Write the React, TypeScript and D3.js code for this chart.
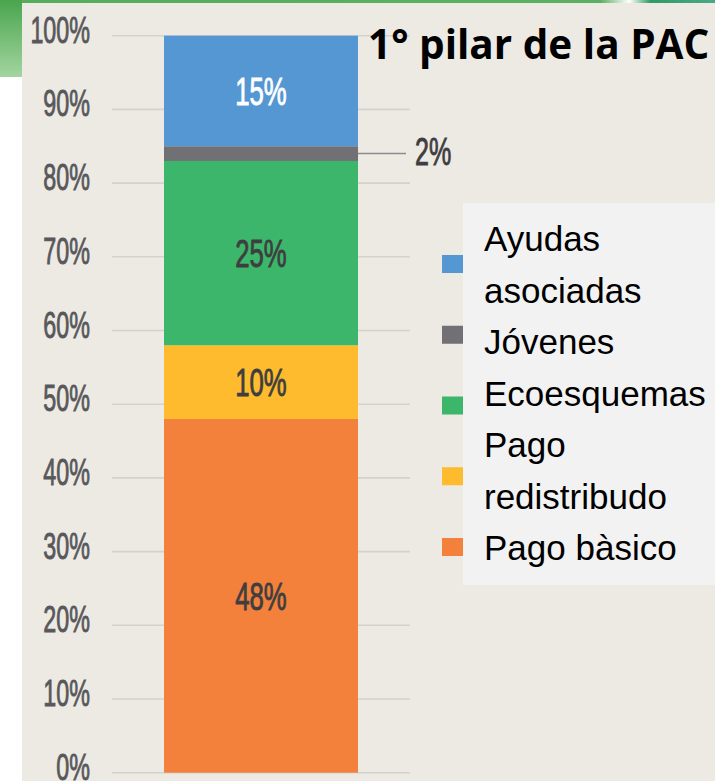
import React from "react";
import * as d3 from "d3";

// Stacked shares of the first pillar (bottom to top)
const segments = ["Pago bàsico", "Pago redistribudo", "Ecoesquemas", "Jóvenes", "Ayudas asociadas"];
const shares = [48, 10, 25, 2, 15];
const segmentColors = ["#F4813B", "#FDBB2D", "#3CB66A", "#717074", "#5597D3"];
const labelColors = ["#3E3E40", "#3E3E40", "#3E3E40", "#3E3E40", "#FFFFFF"];
const categories = ["1° pilar"];
const tickValues = [0, 10, 20, 30, 40, 50, 60, 70, 80, 90, 100];

// Legend (top to bottom), wrapped as in the source slide
const legendKeys = ["Ayudas asociadas", "Jóvenes", "Ecoesquemas", "Pago redistribudo", "Pago bàsico"];
const legendLines = ["Ayudas", "asociadas", "Jóvenes", "Ecoesquemas", "Pago", "redistribudo", "Pago bàsico"];

const title = "1° pilar de la PAC";

const W = 715;
const H = 781;
const condensed = "'Liberation Sans', Arial, sans-serif";

export default function App() {
  const y = d3.scaleLinear().domain([0, 100]).range([772.7, 35.7]);
  const x = d3.scaleBand().domain(categories).range([112, 410]).paddingInner(0).paddingOuter(0.268);

  const row: Record<string, number> = {};
  segments.forEach((s, i) => (row[s] = shares[i]));
  const stacked = d3.stack<Record<string, number>>().keys(segments)([row]);

  const color = d3.scaleOrdinal<string, string>().domain(segments).range(segmentColors);
  const labelColor = d3.scaleOrdinal<string, string>().domain(segments).range(labelColors);

  const x0 = x(categories[0]) as number;
  const bw = x.bandwidth();
  const cx = x0 + bw / 2;

  const swatchY = d3.scalePoint<string>().domain(legendKeys).range([264, 547]);
  const lineY = d3.scalePoint<string>().domain(legendLines.map((d, i) => i + d)).range([251, 560]);

  return (
    <svg
      width={W}
      height={H}
      style={{ position: "absolute", left: 0, top: 0, display: "block" }}
    >
      <defs>
        <linearGradient id="leftGreen" x1="0" y1="0" x2="0" y2="1">
          <stop offset="0" stopColor="#4AA54E" />
          <stop offset="1" stopColor="#A3D5A0" />
        </linearGradient>
        <linearGradient id="topStrip" x1="0" y1="0" x2="1" y2="0">
          <stop offset="0" stopColor="#55AD5A" />
          <stop offset="0.84" stopColor="#5DB063" />
          <stop offset="0.88" stopColor="#FFFFFF" />
          <stop offset="0.91" stopColor="#2E9C62" />
          <stop offset="1" stopColor="#4AA88A" />
        </linearGradient>
      </defs>

      {/* slide background */}
      <rect x={0} y={0} width={W} height={H} fill="#FFFFFF" />
      <rect x={0} y={0} width={W} height={4} fill="url(#topStrip)" />
      <rect x={0} y={0} width={22} height={77} fill="url(#leftGreen)" />
      <rect x={22} y={3} width={W - 22} height={H - 3} fill="#EDEAE4" />

      {/* gridlines */}
      <g>
        {tickValues.map((t) => (
          <line
            key={t}
            x1={112}
            x2={410}
            y1={y(t)}
            y2={y(t)}
            stroke="#D3D2CF"
            strokeWidth={1.6}
          />
        ))}
      </g>

      {/* tick labels (condensed look) */}
      <g fill="#58585B" stroke="#58585B" strokeWidth={0.9} fontFamily={condensed} fontSize={37}>
        {tickValues.map((t) => (
          <text
            key={t}
            transform={`translate(90,${y(t) + 7}) scale(0.63,1)`}
            textAnchor="end"
          >
            {t}%
          </text>
        ))}
      </g>

      {/* stacked bar */}
      <g>
        {stacked.map((s) => (
          <rect
            key={s.key}
            x={x0}
            width={bw}
            y={y(s[0][1])}
            height={y(s[0][0]) - y(s[0][1])}
            fill={color(s.key)}
          />
        ))}
      </g>

      {/* segment labels */}
      <g fontFamily={condensed} fontSize={39} strokeWidth={0.9}>
        {stacked.map((s) => {
          const v = s[0][1] - s[0][0];
          const mid = (s[0][0] + s[0][1]) / 2;
          if (v < 5) {
            return (
              <g key={s.key}>
                <line x1={x0 + bw} x2={406} y1={y(mid)} y2={y(mid)} stroke="#8C8C8C" strokeWidth={1.5} />
                <text
                  transform={`translate(415,${y(mid) + 11}) scale(0.66,1)`}
                  fill="#3E3E40"
                  stroke="#3E3E40"
                  fontSize={38}
                >
                  {v}%
                </text>
              </g>
            );
          }
          return (
            <text
              key={s.key}
              transform={`translate(${cx},${y(mid) + 14}) scale(0.66,1)`}
              textAnchor="middle"
              fill={labelColor(s.key)}
              stroke={labelColor(s.key)}
            >
              {v}%
            </text>
          );
        })}
      </g>

      {/* title */}
      <text
        x={368}
        y={59}
        fontFamily="'Open Sans', 'Liberation Sans', sans-serif"
        fontWeight={700}
        fontSize={40.5}
        fill="#000000"
      >
        {title}
      </text>

      {/* legend */}
      <g>
        {legendKeys.map((k) => (
          <rect key={k} x={442} y={(swatchY(k) as number) - 9} width={21} height={18} fill={color(k)} />
        ))}
        <rect x={463} y={203} width={W - 463} height={382} fill="#F2F2F2" />
        <g fontFamily="'Liberation Sans', Arial, sans-serif" fontSize={35} fill="#000000">
          {legendLines.map((l, i) => (
            <text key={i} x={484} y={lineY(i + l)}>
              {l}
            </text>
          ))}
        </g>
      </g>
    </svg>
  );
}
